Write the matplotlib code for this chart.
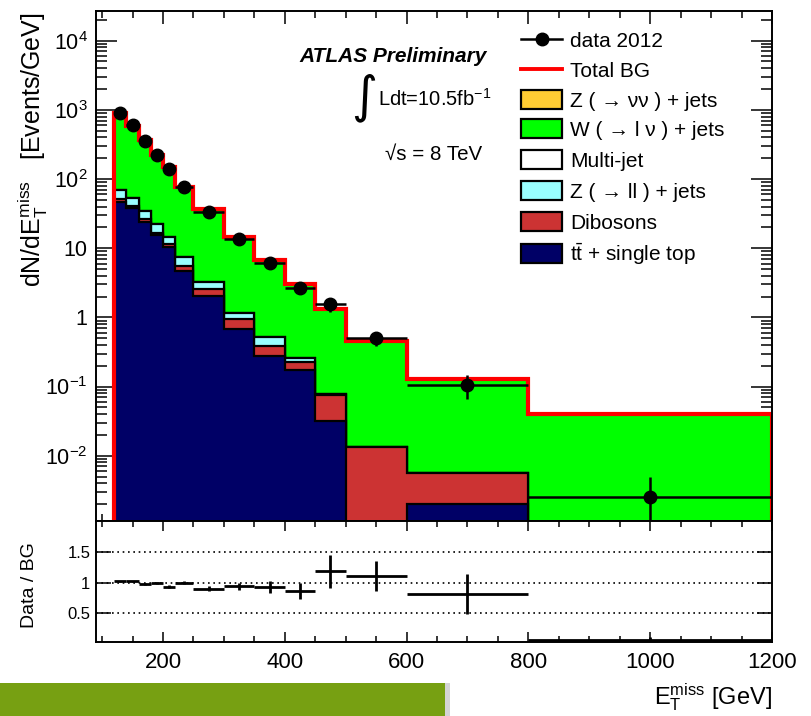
import numpy as np
import matplotlib
matplotlib.use("Agg")
import matplotlib.pyplot as plt
import matplotlib.ticker as ticker
from matplotlib.patches import Rectangle
from matplotlib.lines import Line2D

plt.rcParams['font.family'] = ['Liberation Sans', 'DejaVu Sans']
plt.rcParams['mathtext.default'] = 'regular'

# ---- data ----
edges = np.array([120, 140, 160, 180, 200, 220, 250, 300, 350, 400, 450, 500, 600, 800, 1200])
data = np.array([910, 605, 359, 223, 139, 76, 33.5, 13.8, 6.2, 2.64, 1.55, 0.506, 0.106, 0.0025])
data_err_lo = np.array([11, 8.5, 6.1, 4.5, 3.5, 2.3, 1.3, 0.76, 0.56, 0.37, 0.37, 0.116, 0.04, 0.00245])
data_err_hi = np.array([11, 8.5, 6.1, 4.5, 3.5, 2.3, 1.3, 0.76, 0.56, 0.37, 0.37, 0.116, 0.04, 0.0025])

ttbar = np.array([47, 38, 24, 15.5, 10.5, 4.7, 2.04, 0.67, 0.28, 0.173, 0.032, 0, 0.002, 0])
dibosons = np.array([5, 3, 2.2, 1.2, 1.0, 0.85, 0.5, 0.27, 0.1, 0.056, 0.043, 0.0135, 0.0036, 0])
zll = np.array([18, 13, 8.3, 5.7, 3.2, 1.85, 0.67, 0.23, 0.135, 0.03, 0.002, 0, 0, 0])
multijet = np.zeros(14)
wlnu = np.array([822, 539, 331, 201, 134, 68.6, 34.0, 13.5, 6.18, 2.79, 1.23, 0.443, 0.124, 0.040])
znunu = np.zeros(14)

ratio_err = np.array([0.01, 0.012, 0.015, 0.02, 0.025, 0.03, 0.04, 0.055, 0.1, 0.13, 0.27, 0.25, 0.33, 0.0625])

labels = ['Z ( \u2192 \u03bd\u03bd ) + jets', 'W ( \u2192 l \u03bd ) + jets', 'Multi-jet',
          'Z ( \u2192 ll ) + jets', 'Dibosons', r'$t\bar{t}$ + single top']
colors = ['#ffcc33', '#00ff00', '#ffffff', '#99ffff', '#cc3333', '#000066']

# stack from bottom to top
stack = [ttbar, dibosons, zll, multijet, wlnu, znunu]
stack_colors = ['#000066', '#cc3333', '#99ffff', '#ffffff', '#00ff00', '#ffcc33']
cum = np.cumsum(stack, axis=0)
total = cum[-1]
centers = (edges[:-1] + edges[1:]) / 2
halfw = (edges[1:] - edges[:-1]) / 2

W, H = 811, 716
def fx(x):
    return x / W
def fy(y):
    return 1 - y / H

fig = plt.figure(figsize=(W / 100, H / 100), dpi=100)
ax = fig.add_axes([fx(96), fy(521), 676 / W, 510 / H])
ax2 = fig.add_axes([fx(96), fy(642), 676 / W, 121 / H], sharex=ax)

floor = 1e-5
for i in reversed(range(len(stack))):
    vals = np.maximum(cum[i], floor)
    z = 2 + (len(stack) - i) * 0.1
    ax.stairs(vals, edges, baseline=floor, fill=True, color=stack_colors[i], zorder=z)
    ax.stairs(vals, edges, baseline=floor, color='k', lw=1.6, zorder=z + 0.05)

ax.stairs(total, edges, baseline=floor, color='#ff0000', lw=3.0, zorder=4)
ax.errorbar(centers, data, xerr=halfw, yerr=[data_err_lo, data_err_hi], fmt='o', color='k',
            ms=9, elinewidth=1.8, capsize=0, zorder=5)

ax.set_yscale('log')
ax.set_xlim(90, 1200)
ax.set_ylim(0.001137, 26850)

def logfmt(v, pos):
    n = int(round(np.log10(v)))
    if n == 0:
        return '1'
    if n == 1:
        return '10'
    return r'$10^{%d}$' % n

ax.yaxis.set_major_locator(ticker.FixedLocator([1e-2, 1e-1, 1, 10, 1e2, 1e3, 1e4]))
ax.yaxis.set_minor_locator(ticker.LogLocator(base=10, subs=np.arange(2, 10), numticks=20))
ax.yaxis.set_major_formatter(ticker.FuncFormatter(logfmt))
ax.yaxis.set_minor_formatter(ticker.NullFormatter())
ax.xaxis.set_major_locator(ticker.MultipleLocator(200))
ax.xaxis.set_minor_locator(ticker.MultipleLocator(50))

ax.tick_params(axis='both', which='both', direction='in', top=True, right=True, width=1.1)
ax.tick_params(axis='y', which='major', length=15, labelsize=15.5, pad=6)
ax.tick_params(axis='y', which='minor', length=8)
ax.tick_params(axis='x', which='major', length=9, labelbottom=False)
ax.tick_params(axis='x', which='minor', length=5)
for s in ax.spines.values():
    s.set_linewidth(1.4)
    s.set_zorder(10)

# ratio panel
ratio = data / total
ax2.errorbar(centers, ratio, xerr=halfw, yerr=ratio_err, fmt='none', ecolor='k', elinewidth=2.0,
             capsize=0, zorder=5)
for yv in [0.5, 1.0, 1.5]:
    ax2.axhline(yv, color='k', ls=(0, (1, 2.2)), lw=1.2, zorder=1)
ax2.set_ylim(0.037, 2.0)
ax2.set_yticks([0.5, 1.0, 1.5])
ax2.yaxis.set_major_formatter(ticker.FuncFormatter(lambda v, p: '%g' % v))
ax2.tick_params(axis='both', which='both', direction='in', top=True, right=True, width=1.1)
ax2.tick_params(axis='y', which='major', length=11, labelsize=12, pad=4)
ax2.tick_params(axis='x', which='major', length=7, labelsize=16, pad=7)
ax2.tick_params(axis='x', which='minor', length=4)
for s in ax2.spines.values():
    s.set_linewidth(1.4)
    s.set_zorder(10)

# axis titles
fig.text(fx(33), fy(12), r'dN/d$E_{T}^{miss}$   [Events/GeV]', rotation=90,
         ha='center', va='top', fontsize=18)
fig.text(fx(30), fy(585), 'Data / BG', rotation=90, ha='center', va='center', fontsize=14)
fig.text(fx(772), fy(704), r'$E_{T}^{miss}$ [GeV]', ha='right', va='baseline', fontsize=17)

# labels
fig.text(fx(487), fy(56), 'ATLAS Preliminary', ha='right', va='center', fontsize=15,
         weight='bold', style='italic')
fig.text(fx(364), fy(98), '\u222b', ha='center', va='center', fontsize=36,
         family=['DejaVu Sans'])
fig.text(fx(378), fy(106), r'Ldt=10.5fb$^{-1}$', ha='left', va='baseline', fontsize=14.5)
fig.text(fx(385), fy(160), '\u221as = 8 TeV', ha='left', va='baseline', fontsize=14.8)

# legend
row_y = [39.3, 69.3, 99.3, 128.3, 159.3, 190.7, 221.7, 253.3]
lx0, lx1, tx = 521, 562, 570
fig.add_artist(Line2D([fx(lx0), fx(lx1)], [fy(row_y[0])] * 2, color='k', lw=1.8))
fig.add_artist(Line2D([fx((lx0 + lx1) / 2)], [fy(row_y[0])], marker='o', ms=9, color='k'))
fig.text(fx(tx), fy(row_y[0] + 7.5), 'data 2012', va='baseline', fontsize=15)
fig.add_artist(Line2D([fx(lx0), fx(lx1)], [fy(row_y[1])] * 2, color='#ff0000', lw=2.8))
fig.text(fx(tx), fy(row_y[1] + 7.5), 'Total BG', va='baseline', fontsize=15)
for k, (lab, col) in enumerate(zip(labels, colors)):
    yc = row_y[k + 2]
    fig.add_artist(Rectangle((fx(lx0), fy(yc + 9.5)), (lx1 - lx0) / W, 19 / H,
                             facecolor=col, edgecolor='k', lw=1.6, transform=fig.transFigure))
    fig.text(fx(tx), fy(yc + 7.5), lab, va='baseline', fontsize=15)

# slide overlay box at bottom left
fig.add_artist(Rectangle((fx(445), fy(716)), 5 / W, 33 / H, facecolor='#d4d4d4',
                         edgecolor='none', transform=fig.transFigure))
fig.add_artist(Rectangle((0, fy(716)), 445 / W, 33 / H, facecolor='#77a012',
                         edgecolor='none', transform=fig.transFigure))

fig.savefig('out.png', dpi=100)
